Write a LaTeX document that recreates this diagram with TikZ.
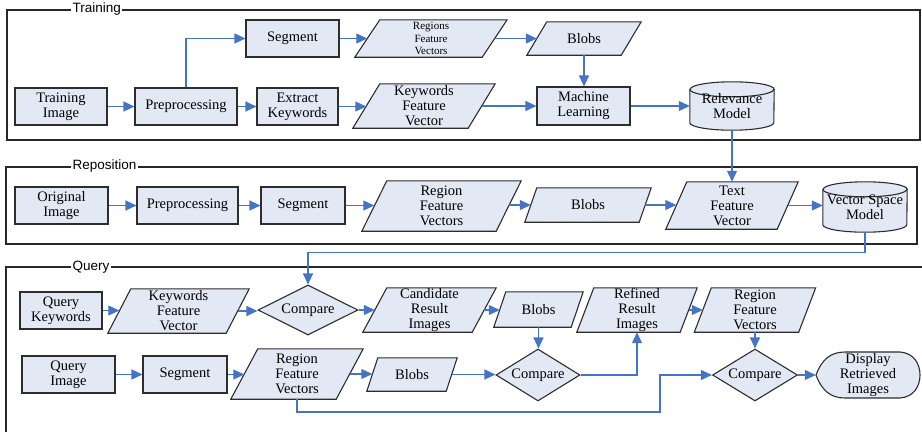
\documentclass[tikz,border=0pt]{standalone}
\usepackage{fontspec}
\setmainfont{Liberation Serif}
\newfontfamily\serifmain{Liberation Serif}
\newfontfamily\labsans{Liberation Sans}
\usetikzlibrary{arrows.meta,shapes.geometric,backgrounds}
\definecolor{nfill}{RGB}{226,233,245}
\definecolor{nbord}{RGB}{45,45,45}
\definecolor{arrblue}{RGB}{70,116,196}
\definecolor{frm}{RGB}{40,40,40}
\tikzset{
  shp/.style={draw=nbord, fill=nfill, line width=1.1pt, line join=miter},
  box/.style={shp, rectangle, inner sep=0pt, align=center, font=\serifmain\fontsize{14.5}{15}\selectfont},
  partext/.style={rectangle, inner sep=0pt, align=center, font=\serifmain\fontsize{14.5}{15}\selectfont},
  dia/.style={shp, diamond, aspect=1.6, inner sep=0pt, font=\serifmain\fontsize{14.5}{15}\selectfont},
  arr/.style={draw=arrblue, line width=1.1pt, -{Triangle[length=11pt,width=10pt]}},
  frame/.style={draw=frm, line width=1.3pt},
  flabel/.style={fill=white, inner sep=1.5pt, anchor=west, font=\labsans\fontsize{13.5}{15}\selectfont},
  smallfont/.style={font=\serifmain\fontsize{11}{12.3}\selectfont},
}
% [opts]{name}{x}{y}{w}{h}{slant}{text}
\newcommand\parnode[8][]{%
  \node[partext,#1,minimum width={#5-#7},minimum height=#6] (#2) at (#3,#4) {#8};
  \begin{pgfonlayer}{background}
    \path[shp] ([xshift={-#7/2}]#2.south west) -- ([xshift={-#7/2}]#2.south east)
      -- ([xshift={#7/2}]#2.north east) -- ([xshift={#7/2}]#2.north west) -- cycle;
  \end{pgfonlayer}}
% {name}{x}{y}{w}{h}{text}
\newcommand\cylnode[6]{%
  \node[partext,minimum width=#4,minimum height=#5] (#1) at (#2,#3) {#6};
  \begin{pgfonlayer}{background}
    \path[shp] ([yshift=-7.5pt]#1.north west) -- ([yshift=7.5pt]#1.south west)
      arc[start angle=180,end angle=360,x radius={#4*0.5pt},y radius=7.5pt]
      -- ([yshift=-7.5pt]#1.north east)
      arc[start angle=0,end angle=180,x radius={#4*0.5pt},y radius=7.5pt] -- cycle;
    \path[shp,fill=none] ([yshift=-7.5pt]#1.north west)
      arc[start angle=180,end angle=360,x radius={#4*0.5pt},y radius=7.5pt];
  \end{pgfonlayer}}
\begin{document}
\begin{tikzpicture}[x=1pt,y=-1pt]
\useasboundingbox (0,0) rectangle (922,432);
% frames
\draw[frame] (7,10) rectangle (920,140);
\draw[frame] (6,167) rectangle (917,244);
\draw[frame] (922,267) -- (6,267) -- (6,432);
\node[flabel] (lt) at (71,9) {Training};
\node[flabel] (lr) at (71,166.5) {Reposition};
\node[flabel] (lq) at (71,267.5) {Query};

% Training
\node[box,minimum width=92,minimum height=37] (ti) at (61,106.5) {Training\\Image};
\node[box,minimum width=102,minimum height=37] (pp1) at (186,106.5) {Preprocessing};
\node[box,minimum width=93,minimum height=37] (seg1) at (292.5,38.5) {Segment};
\node[box,minimum width=81,minimum height=37] (ek) at (297.5,106.5) {Extract\\Keywords};
\parnode[smallfont]{rfv1}{431}{38.5}{152}{37}{25}{Regions\\Feature\\Vectors}
\parnode{kfv1}{424}{106}{142}{44}{27}{Keywords\\Feature\\Vector}
\parnode{blobs1}{584}{38.5}{114}{33}{20}{Blobs}
\node[box,minimum width=93,minimum height=38] (ml) at (583.5,106) {Machine\\Learning};
\cylnode{rel}{732}{106}{84}{48}{Relevance\\Model}

% Reposition
\node[box,minimum width=93,minimum height=37] (oi) at (61.5,205.5) {Original\\Image};
\node[box,minimum width=101,minimum height=37] (pp2) at (187.5,205.5) {Preprocessing};
\node[box,minimum width=84,minimum height=37] (seg2) at (303,205.5) {Segment};
\parnode{rfv2}{441.5}{206}{159}{50}{25}{Region\\Feature\\Vectors}
\parnode{blobs2}{588}{205}{126}{34}{12}{Blobs}
\parnode{tfv}{732}{205.5}{132}{47}{21}{Text\\Feature\\Vector}
\cylnode{vsm}{865}{207}{84}{50}{Vector Space\\Model}

% Query
\node[box,minimum width=82,minimum height=37] (qk) at (61,310.5) {Query\\Keywords};
\parnode{kfv2}{178.5}{311}{141}{44}{23}{Keywords\\Feature\\Vector}
\node[dia,minimum width=100,minimum height=50] (cmp1) at (308,310) {Compare};
\parnode{cri}{429.5}{310}{133}{44}{24}{Candidate\\Result\\Images}
\parnode{blobs3}{538.5}{309.5}{89}{35}{12}{Blobs}
\parnode{rri}{637}{310}{120}{44}{17}{Refined\\Result\\Images}
\parnode{rfv3}{755}{310}{121}{44}{17}{Region\\Feature\\Vectors}
\node[dia,minimum width=84,minimum height=52] (cmp2) at (538,375) {Compare};
\node[dia,minimum width=85,minimum height=52] (cmp3) at (755,375) {Compare};
\node[partext,minimum width=104,minimum height=46] (disp) at (868,375) {Display\\Retrieved\\Images};
\begin{pgfonlayer}{background}
\path[shp] (816,375) .. controls (822,359) and (831,352) .. (845,352) -- (900,352)
  .. controls (914,353) and (920,364) .. (920,375)
  .. controls (920,386) and (914,397) .. (900,398) -- (845,398)
  .. controls (831,398) and (822,391) .. (816,375) -- cycle;
\end{pgfonlayer}
\node[box,minimum width=93,minimum height=37] (qi) at (68.5,374.5) {Query\\Image};
\node[box,minimum width=84,minimum height=37] (seg3) at (185,374.5) {Segment};
\parnode{rfv4}{297}{374}{132}{50}{27}{Region\\Feature\\Vectors}
\parnode{blobs4}{412}{374.5}{90}{33}{11}{Blobs}
\coordinate (j1) at (660,412);

% connectors: training
\draw[arr] (ti.east) -- (pp1.west);
\draw[arr] (pp1.north) |- (seg1.west);
\draw[arr] (pp1.east) -- (ek.west);
\draw[arr] (seg1.east) -- (seg1.east -| rfv1.west);
\draw[arr] (rfv1.east) -- (rfv1.east -| blobs1.west);
\draw[arr] (blobs1.south) -- (blobs1.south |- ml.north);
\draw[arr] (ek.east) -- (ek.east -| kfv1.west);
\draw[arr] (kfv1.east) -- (kfv1.east -| ml.west);
\draw[arr] (ml.east) -- (ml.east -| rel.west);
\draw[arr] (rel.south) -- (rel.south |- tfv.north);
% reposition
\draw[arr] (oi.east) -- (pp2.west);
\draw[arr] (pp2.east) -- (seg2.west);
\draw[arr] (seg2.east) -- (seg2.east -| rfv2.west);
\draw[arr] (blobs2.west -| rfv2.east) -- (blobs2.west);
\draw[arr] (blobs2.east) -- (blobs2.east -| tfv.west);
\draw[arr] (tfv.east) -- (tfv.east -| vsm.west);
\draw[arr] (vsm.south) -- ++(0,20) -| (cmp1.north);
% query
\draw[arr] (qk.east) -- (qk.east -| kfv2.west);
\draw[arr] (kfv2.east) -- (kfv2.east -| cmp1.west);
\draw[arr] (cmp1.east) -- (cmp1.east -| cri.west);
\draw[arr] (cri.east) -- (cri.east -| blobs3.west);
\draw[arr] (blobs3.south) -- (blobs3.south |- cmp2.north);
\draw[arr] (qi.east) -- (qi.east -| seg3.west);
\draw[arr] (seg3.east) -- (seg3.east -| rfv4.west);
\draw[arr] (rfv4.east) -- (rfv4.east -| blobs4.west);
\draw[arr] (blobs4.east) -- (blobs4.east -| cmp2.west);
\draw[arr] (cmp2.east) -| (rri.south);
\draw[arr] (rri.east) -- (rri.east -| rfv3.west);
\draw[arr] (rfv3.south) -- (rfv3.south |- cmp3.north);
\draw[arr] (rfv4.south) |- (j1) |- (cmp3.west);
\draw[arr] (cmp3.east) -- (disp.west);
\end{tikzpicture}
\end{document}
